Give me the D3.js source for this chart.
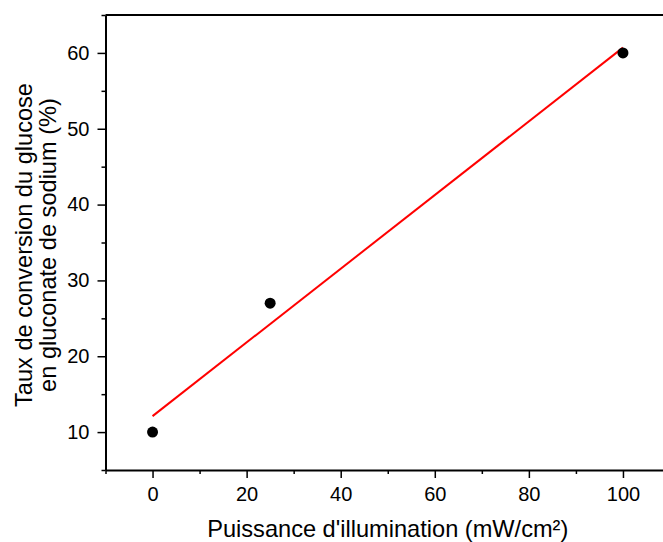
<!DOCTYPE html>
<html><head><meta charset="utf-8">
<script src="https://cdn.jsdelivr.net/npm/d3@7"></script>
<style>body{margin:0;background:#fff;} svg{display:block;font-family:"Liberation Sans",Arial,sans-serif;}</style>
</head><body>
<script>
const powerX = [0, 25, 100];
const conversionY = [10, 27, 60];
const fitX = [0, 100];
const fitY = [12.1, 60.7];
const xTicks = [0, 20, 40, 60, 80, 100];
const yTicks = [10, 20, 30, 40, 50, 60];
const xMinor = [-10, 10, 30, 50, 70, 90, 110];
const yMinor = [5, 15, 25, 35, 45, 55, 65];
const xLabel = "Puissance d'illumination (mW/cm²)";
const yLabelLines = ["Taux de conversion du glucose", "en gluconate de sodium (%)"];

const W = 663, H = 542;
const m = {left: 105.5, right: 670, top: 15, bottom: 470};
const svg = d3.select("body").append("svg").attr("width", W).attr("height", H);
const x = d3.scaleLinear().domain([-10, 110]).range([m.left, m.right]);
const y = d3.scaleLinear().domain([5, 65]).range([m.bottom, m.top]);

// frame top & right
svg.append("line").attr("x1", m.left).attr("x2", m.right).attr("y1", m.top).attr("y2", m.top)
  .attr("stroke", "#000").attr("stroke-width", 2);
svg.append("line").attr("x1", m.right).attr("x2", m.right).attr("y1", m.top).attr("y2", m.bottom)
  .attr("stroke", "#000").attr("stroke-width", 2);

function styleAxis(g){
  g.select(".domain").attr("stroke-width", 2);
  g.selectAll(".tick line").attr("stroke-width", 1.5);
  g.selectAll("text").attr("font-size", 20).attr("fill", "#000").attr("font-family", "Liberation Sans, Arial, sans-serif");
}
const gx = svg.append("g").attr("transform", `translate(0,${m.bottom})`)
  .call(d3.axisBottom(x).tickValues(xTicks).tickSize(8).tickSizeOuter(0).tickPadding(9).tickFormat(d3.format("d")));
styleAxis(gx);
const gxm = svg.append("g").attr("transform", `translate(0,${m.bottom})`)
  .call(d3.axisBottom(x).tickValues(xMinor).tickSize(4).tickSizeOuter(0).tickFormat(""));
gxm.select(".domain").remove(); gxm.selectAll(".tick line").attr("stroke-width", 1.5);

const gy = svg.append("g").attr("transform", `translate(${m.left},0)`)
  .call(d3.axisLeft(y).tickValues(yTicks).tickSize(8).tickSizeOuter(0).tickPadding(8).tickFormat(d3.format("d")));
styleAxis(gy);
const gym = svg.append("g").attr("transform", `translate(${m.left},0)`)
  .call(d3.axisLeft(y).tickValues(yMinor).tickSize(4).tickSizeOuter(0).tickFormat(""));
gym.select(".domain").remove(); gym.selectAll(".tick line").attr("stroke-width", 1.5);

// fit line
svg.append("path").datum(fitX.map((d,i)=>[d, fitY[i]]))
  .attr("d", d3.line().x(d=>x(d[0])).y(d=>y(d[1])))
  .attr("stroke", "#ff0000").attr("stroke-width", 2).attr("fill", "none");

// points
svg.selectAll("circle.pt").data(powerX.map((d,i)=>[d, conversionY[i]])).enter()
  .append("circle").attr("cx", d=>x(d[0])).attr("cy", d=>y(d[1])).attr("r", 5.5).attr("fill", "#000");

// labels
svg.append("text").attr("x", (m.left + m.right)/2).attr("y", 537).attr("text-anchor", "middle")
  .attr("font-size", 23.6).attr("fill", "#000").text(xLabel);
const yl = svg.append("text").attr("transform", `translate(32,245) rotate(-90)`)
  .attr("text-anchor", "middle").attr("font-size", 23.6).attr("fill", "#000");
yLabelLines.forEach((t,i)=>yl.append("tspan").attr("x", 0).attr("dy", i === 0 ? 0 : 24).text(t));
</script>
</body></html>
